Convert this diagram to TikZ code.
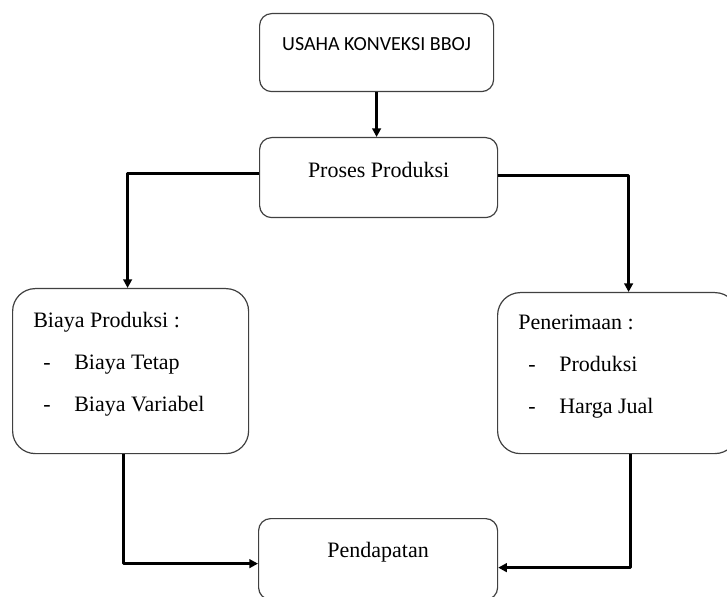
\documentclass[tikz,border=0pt]{standalone}
\usepackage{fontspec}
\setmainfont{Liberation Serif}
\newfontfamily\calibri{Carlito}
\usetikzlibrary{arrows.meta}

\tikzset{
  kotak/.style={draw=black!75, line width=0.9pt, rounded corners=9pt, inner sep=0pt, anchor=north west},
  rincian/.style={anchor=base west, inner sep=0pt},
  panah/.style={line width=1.8pt, -{Triangle[length=6.5pt,width=6.5pt]}},
}

\begin{document}
\begin{tikzpicture}[x=0.75pt,y=0.75pt,line join=round,font=\fontsize{16.5}{31.5}\selectfont]
  \useasboundingbox (0,0) rectangle (727,596);
  % kotak-kotak
  \node[kotak,minimum width=175.5pt,minimum height=58.5pt,text height=27.75pt,text depth=30.75pt,font=\calibri\fontsize{15}{18}\selectfont] (usaha) at (259,583) {USAHA KONVEKSI BBOJ};
  \node[kotak,minimum width=178.5pt,minimum height=60pt,text height=30pt,text depth=30pt] (proses) at (259,459) {Proses Produksi};
  \node[kotak,rounded corners=17pt,minimum width=177pt,minimum height=123.75pt] (biaya) at (12,308) {};
  \node[kotak,rounded corners=17pt,minimum width=180pt,minimum height=120.75pt] (terima) at (497,304) {};
  \node[kotak,minimum width=179.25pt,minimum height=60.75pt,text height=29.25pt,text depth=31.5pt] (hasil) at (258,78) {Pendapatan};
  % isi kotak kiri dan kanan
  \node[rincian] (teksbiaya) at (33,268) {\begin{tabular}[t]{@{\hspace{7.5pt}}p{23.25pt}@{}l@{}}
      \multicolumn{2}{@{}l@{}}{Biaya Produksi :}\\
      - & Biaya Tetap\\
      - & Biaya Variabel
    \end{tabular}};
  \node[rincian] (teksterima) at (518,266) {\begin{tabular}[t]{@{\hspace{7.5pt}}p{23.25pt}@{}l@{}}
      \multicolumn{2}{@{}l@{}}{Penerimaan :}\\
      - & Produksi\\
      - & Harga Jual
    \end{tabular}};
  % panah
  \draw[panah] (usaha.south) -- (usaha.south |- proses.north);
  \draw[panah] ([yshift=3pt]proses.west) -| ([xshift=-2.25pt]biaya.north);
  \draw[panah] ([yshift=1.5pt]proses.east) -| ([xshift=8.25pt]terima.north);
  \draw[panah] ([xshift=-5.25pt]biaya.south) |- ([yshift=-3.4pt]hasil.west);
  \draw[panah] ([xshift=9.75pt]terima.south) |- ([yshift=-6.4pt]hasil.east);
\end{tikzpicture}
\end{document}
